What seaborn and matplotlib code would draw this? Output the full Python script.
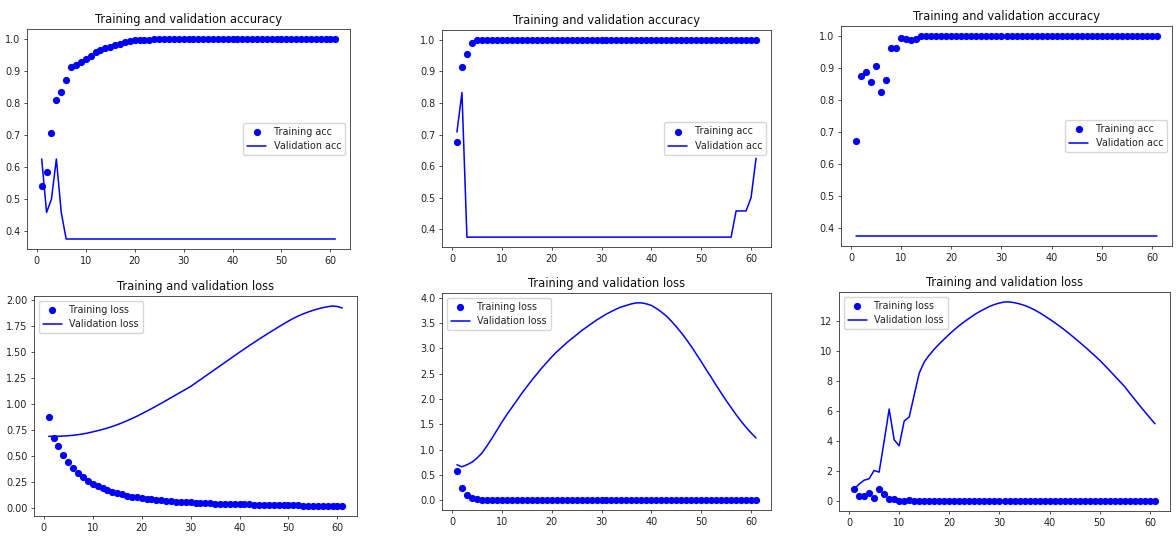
import matplotlib
matplotlib.use("Agg")
import matplotlib.pyplot as plt
import seaborn as sns

epochs = list(range(1, 62))

# ---- model 1 ----
acc_1 = [0.542, 0.583, 0.706, 0.81, 0.833, 0.873, 0.914, 0.92, 0.927, 0.937,
         0.948, 0.96, 0.966, 0.972, 0.976, 0.98, 0.985, 0.99, 0.995, 0.996,
         0.996, 0.997, 0.998] + [1.0] * 38
val_acc_1 = [0.625, 0.458, 0.5, 0.625, 0.458] + [0.375] * 56
loss_1 = [0.875, 0.675, 0.595, 0.51, 0.44, 0.385, 0.335, 0.3, 0.262, 0.235,
          0.21, 0.19, 0.172, 0.157, 0.143, 0.13, 0.12, 0.11, 0.102, 0.095,
          0.089, 0.083, 0.078, 0.073, 0.069, 0.066, 0.062, 0.059, 0.056, 0.053,
          0.05, 0.048, 0.046, 0.044, 0.042, 0.041, 0.039, 0.038, 0.037, 0.036,
          0.035, 0.034, 0.033, 0.032, 0.031, 0.031, 0.03, 0.029, 0.029, 0.028,
          0.027, 0.027, 0.022, 0.021, 0.021, 0.02, 0.02, 0.02, 0.019, 0.019, 0.019]
val_loss_1 = [0.690, 0.690, 0.691, 0.693, 0.696, 0.700, 0.706, 0.713, 0.722, 0.733,
              0.744, 0.756, 0.770, 0.785, 0.802, 0.820, 0.840, 0.861, 0.883, 0.907,
              0.931, 0.956, 0.982, 1.008, 1.035, 1.062, 1.089, 1.116, 1.143, 1.170,
              1.203, 1.236, 1.269, 1.302, 1.335, 1.368, 1.401, 1.434, 1.467, 1.500,
              1.532, 1.564, 1.595, 1.626, 1.656, 1.686, 1.715, 1.744, 1.772, 1.800,
              1.826, 1.849, 1.869, 1.887, 1.903, 1.917, 1.929, 1.938, 1.945, 1.940, 1.926]

# ---- model 2 ----
acc_2 = [0.675, 0.915, 0.955, 0.99] + [1.0] * 57
val_acc_2 = [0.708, 0.833] + [0.375] * 54 + [0.458, 0.458, 0.458, 0.5, 0.625]
loss_2 = [0.58, 0.235, 0.11, 0.04, 0.02, 0.012, 0.007, 0.005, 0.004, 0.004,
          0.003, 0.003, 0.003, 0.002, 0.002, 0.002, 0.002, 0.002, 0.002, 0.002] + [0.001] * 41
val_loss_2 = [0.70, 0.66, 0.70, 0.75, 0.83, 0.93, 1.07, 1.22, 1.38, 1.54,
              1.69, 1.83, 1.97, 2.11, 2.24, 2.37, 2.49, 2.61, 2.72, 2.83,
              2.93, 3.02, 3.11, 3.19, 3.27, 3.35, 3.42, 3.49, 3.56, 3.62,
              3.68, 3.73, 3.78, 3.82, 3.85, 3.88, 3.90, 3.90, 3.88, 3.85,
              3.79, 3.72, 3.64, 3.54, 3.43, 3.31, 3.18, 3.04, 2.89, 2.74,
              2.58, 2.43, 2.27, 2.12, 1.97, 1.83, 1.69, 1.56, 1.44, 1.33, 1.23]

# ---- model 3 ----
acc_3 = [0.672, 0.874, 0.889, 0.855, 0.906, 0.824, 0.862, 0.962, 0.962, 0.995,
         0.992, 0.988, 0.992] + [1.0] * 48
val_acc_3 = [0.375] * 61
loss_3 = [0.80, 0.36, 0.36, 0.53, 0.20, 0.80, 0.47, 0.13, 0.13, 0.02,
          0.02, 0.09] + [0.01] * 49
val_loss_3 = [0.80, 1.14, 1.40, 1.50, 2.05, 1.94, 4.00, 6.15, 4.10, 3.70,
              5.35, 5.62, 7.10, 8.55, 9.30, 9.75, 10.15, 10.50, 10.83, 11.15,
              11.45, 11.73, 11.98, 12.22, 12.45, 12.65, 12.83, 13.00, 13.13, 13.23,
              13.30, 13.30, 13.25, 13.17, 13.07, 12.93, 12.77, 12.58, 12.37, 12.15,
              11.92, 11.68, 11.43, 11.16, 10.88, 10.60, 10.31, 10.01, 9.71, 9.40,
              9.06, 8.71, 8.35, 7.99, 7.63, 7.20, 6.78, 6.37, 5.96, 5.56, 5.17]

acc_title = "Training and validation accuracy"
loss_title = "Training and validation loss"

sns.set_theme(style="ticks")
plt.rcParams.update({
    "font.family": ["DejaVu Sans"],
    "axes.edgecolor": "#333333",
    "axes.linewidth": 0.6,
    "xtick.color": "#333333",
    "ytick.color": "#333333",
    "xtick.labelcolor": "#222222",
    "ytick.labelcolor": "#222222",
    "xtick.major.size": 2.4,
    "ytick.major.size": 2.4,
    "xtick.major.width": 0.6,
    "ytick.major.width": 0.6,
    "xtick.major.pad": 2.4,
    "ytick.major.pad": 2.4,
    "xtick.labelsize": 6.9,
    "ytick.labelsize": 6.9,
    "xtick.direction": "out",
    "ytick.direction": "out",
    "legend.frameon": True,
    "legend.framealpha": 0.8,
    "legend.edgecolor": "0.8",
    "legend.fancybox": True,
    "text.color": "#222222",
})

W, H = 1176, 540
fig = plt.figure(figsize=(W / 100, H / 100), dpi=100)
fig.patch.set_facecolor("white")


def add_ax(l, t, r, b):
    return fig.add_axes([l / W, 1 - b / H, (r - l) / W, (b - t) / H])


panels = [
    ((27, 29, 350, 249), acc_1, val_acc_1, "Training acc", "Validation acc", acc_title, "center right"),
    ((442, 30, 771, 247), acc_2, val_acc_2, "Training acc", "Validation acc", acc_title, "center right"),
    ((841, 26, 1172, 246), acc_3, val_acc_3, "Training acc", "Validation acc", acc_title, "center right"),
    ((34, 296, 357, 516), loss_1, val_loss_1, "Training loss", "Validation loss", loss_title, "upper left"),
    ((442, 293, 771, 510), loss_2, val_loss_2, "Training loss", "Validation loss", loss_title, "upper left"),
    ((839, 292, 1170, 511), loss_3, val_loss_3, "Training loss", "Validation loss", loss_title, "upper left"),
]

for box, train, val, tl, vl, title, loc in panels:
    ax = add_ax(*box)
    sns.scatterplot(x=epochs, y=train, color="blue", s=27, linewidth=0,
                    label=tl, ax=ax, zorder=2)
    sns.lineplot(x=epochs, y=val, color="blue", linewidth=1.1, label=vl,
                 ax=ax, estimator=None, sort=False, zorder=3)
    ax.set_title(title, fontsize=8.3, pad=4, color="#111111")
    ax.set_xlabel("")
    ax.set_ylabel("")
    ax.set_xticks([0, 10, 20, 30, 40, 50, 60])
    ax.legend(loc=loc, fontsize=6.9)
    for s in ax.spines.values():
        s.set_visible(True)

fig.savefig("out.png", dpi=100, facecolor="white")
